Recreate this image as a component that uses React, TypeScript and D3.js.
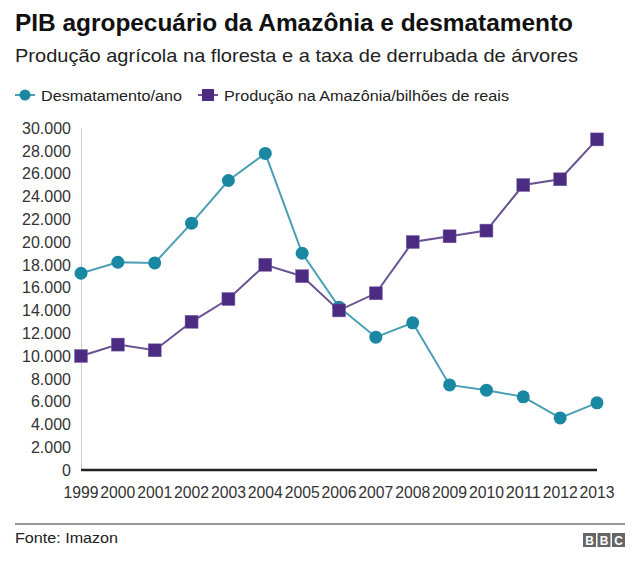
import React from "react";
import * as d3 from "d3";

const years = [1999, 2000, 2001, 2002, 2003, 2004, 2005, 2006, 2007, 2008, 2009, 2010, 2011, 2012, 2013];
const desmatamento = [17259, 18226, 18165, 21651, 25396, 27772, 19014, 14286, 11651, 12911, 7464, 7000, 6418, 4571, 5891];
const producao = [10000, 11000, 10500, 13000, 15000, 18000, 17000, 14000, 15500, 20000, 20500, 21000, 25000, 25500, 29000];
const yTicks = [0, 2000, 4000, 6000, 8000, 10000, 12000, 14000, 16000, 18000, 20000, 22000, 24000, 26000, 28000, 30000];

const W = 640, H = 568;
const TEAL = "#1a87a3", TEAL_LINE = "#4a9fb5";
const PURPLE = "#4b2c82", PURPLE_LINE = "#6a5293";
const FONT = "Liberation Sans, Arial, Helvetica, sans-serif";

export default function App() {
  const x = d3.scalePoint<number>().domain(years).range([81, 597]);
  const y = d3.scaleLinear().domain([0, 30000]).range([470, 128]);
  const fmt = (v: number) => d3.format(",")(v).replace(/,/g, ".");
  const lineD = d3.line<number>().x((_, i) => x(years[i])!).y((d) => y(d));
  const lineP = d3.line<number>().x((_, i) => x(years[i])!).y((d) => y(d));
  const sq = 13;

  return (
    <svg width={W} height={H} style={{ position: "absolute", left: 0, top: 0, background: "#fff" }} fontFamily={FONT}>
      <rect width={W} height={H} fill="#fff" />
      <text x={15} y={31} fontSize={23} fontWeight="bold" fill="#111" textLength={558} lengthAdjust="spacingAndGlyphs">PIB agropecuário da Amazônia e desmatamento</text>
      <text x={15} y={62} fontSize={19} fill="#222" textLength={563} lengthAdjust="spacingAndGlyphs">Produção agrícola na floresta e a taxa de derrubada de árvores</text>

      {/* legend */}
      <line x1={15} x2={35} y1={95} y2={95} stroke={TEAL_LINE} strokeWidth={2} />
      <circle cx={25} cy={95} r={5.5} fill={TEAL} />
      <text x={41} y={100.5} fontSize={15.5} fill="#222" textLength={141} lengthAdjust="spacingAndGlyphs">Desmatamento/ano</text>
      <line x1={198} x2={218} y1={95} y2={95} stroke={PURPLE_LINE} strokeWidth={2} />
      <rect x={202} y={89} width={12} height={12} fill={PURPLE} />
      <text x={224} y={100.5} fontSize={15.5} fill="#222" textLength={285} lengthAdjust="spacingAndGlyphs">Produção na Amazônia/bilhões de reais</text>

      {/* y axis */}
      <line x1={81.5} x2={81.5} y1={y(30000)} y2={y(0)} stroke="#ccc" strokeWidth={1} />
      {yTicks.map((t) => (
        <text key={t} x={71} y={y(t)} dy="0.36em" textAnchor="end" fontSize={16} fill="#333">{fmt(t)}</text>
      ))}
      {/* x labels */}
      {years.map((yr) => (
        <text key={yr} x={x(yr)! - 17.5} y={498} fontSize={16} fill="#333" textLength={35} lengthAdjust="spacingAndGlyphs">{yr}</text>
      ))}

      {/* lines */}
      <path d={lineD(desmatamento)!} fill="none" stroke={TEAL_LINE} strokeWidth={2} />
      <path d={lineP(producao)!} fill="none" stroke={PURPLE_LINE} strokeWidth={2} />
      {desmatamento.map((v, i) => (
        <circle key={"d" + i} cx={x(years[i])!} cy={y(v)} r={6.5} fill={TEAL} />
      ))}
      {producao.map((v, i) => (
        <rect key={"p" + i} x={x(years[i])! - sq / 2} y={y(v) - sq / 2} width={sq} height={sq} fill={PURPLE} stroke="#7d68a8" strokeWidth={0.5} />
      ))}

      {/* baseline */}
      <line x1={81} x2={597} y1={470} y2={470} stroke="#222" strokeWidth={2.5} />

      {/* footer */}
      <line x1={15} x2={625} y1={524} y2={524} stroke="#333" strokeWidth={1.2} />
      <text x={15} y={543} fontSize={15.5} fill="#222" textLength={103} lengthAdjust="spacingAndGlyphs">Fonte: Imazon</text>
      {["B", "B", "C"].map((c, i) => (
        <g key={i}>
          <rect x={583 + i * 14.5} y={533} width={13} height={14} fill="#666" />
          <text x={583 + i * 14.5 + 6.5} y={545} textAnchor="middle" fontSize={12} fontWeight="bold" fill="#fff">{c}</text>
        </g>
      ))}
    </svg>
  );
}
